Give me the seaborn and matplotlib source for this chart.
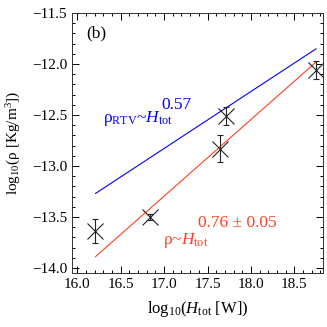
import matplotlib
matplotlib.use("Agg")
import matplotlib.pyplot as plt
from matplotlib.ticker import MultipleLocator
import seaborn as sns
import pandas as pd

# Measured points (log10 H_tot, log10 rho) with error bars
h_tot = [16.21, 16.835, 17.64, 17.71, 18.75]
rho = [-13.64, -13.50, -12.83, -12.51, -12.06]
rho_err = [0.12, 0.03, 0.13, 0.09, 0.09]

# Power-law relations drawn as straight lines
fit_x = [16.21, 18.75]
rtv_y = [-13.27, -11.85]
obs_y = [-13.89, -11.98]

blue = "#0000ff"
red = "#ff3f1f"

sns.set_style("ticks")
plt.rcParams["font.family"] = ["Liberation Serif", "DejaVu Serif"]
plt.rcParams["mathtext.fontset"] = "custom"
plt.rcParams["mathtext.rm"] = "Liberation Serif"
plt.rcParams["mathtext.it"] = "Liberation Serif:italic"
plt.rcParams["font.size"] = 11
plt.rcParams["text.color"] = "black"
plt.rcParams["axes.labelcolor"] = "black"
plt.rcParams["xtick.color"] = "black"
plt.rcParams["ytick.color"] = "black"

fig = plt.figure(figsize=(3.27, 3.27), dpi=100)
ax = fig.add_axes([0.220, 0.165, 0.768, 0.795])

lines = pd.DataFrame({"x": fit_x * 2,
                      "y": rtv_y + obs_y,
                      "rel": ["rtv"] * 2 + ["obs"] * 2})
sns.lineplot(data=lines, x="x", y="y", hue="rel", palette={"rtv": blue, "obs": red},
             linewidth=0.8, legend=False, ax=ax)

ax.errorbar(h_tot, rho, yerr=rho_err, fmt="x", color="#222222", markersize=11,
            markeredgewidth=0.8, elinewidth=0.8, capsize=2, capthick=0.8)

ax.set_xlim(15.94, 18.83)
ax.set_ylim(-14.05, -11.5)
ax.xaxis.set_major_locator(MultipleLocator(0.5))
ax.xaxis.set_minor_locator(MultipleLocator(0.1))
ax.yaxis.set_major_locator(MultipleLocator(0.5))
ax.yaxis.set_minor_locator(MultipleLocator(0.1))
ax.tick_params(which="both", direction="in", top=True, right=True, labelsize=11, width=0.7)
ax.tick_params(which="major", length=5)
ax.tick_params(which="minor", length=2.5)
for s in ax.spines.values():
    s.set_linewidth(0.7)
    s.set_color("#333333")

ax.set_xlabel(r"log$_{10}$($H_{\rm tot}$ [W])", fontsize=12, labelpad=6)
ax.set_ylabel(r"log$_{10}$(ρ [Kg/m$^3$])", fontsize=11, labelpad=6)

ax.text(16.11, -11.70, "(b)", fontsize=12.5, va="center", ha="left")
ax.text(16.30, -12.57, r"ρ$_{\rm RTV}$~$H_{\rm tot}$", color=blue, fontsize=12.5, va="baseline")
ax.text(16.97, -12.44, "0.57", color=blue, fontsize=12.5, va="baseline")
ax.text(16.99, -13.77, r"ρ~$H_{\rm tot}$", color=red, fontsize=12.5, va="baseline")
ax.text(17.39, -13.60, "0.76 ± 0.05", color=red, fontsize=12.5, va="baseline")

fig.savefig("out.png", dpi=100)
